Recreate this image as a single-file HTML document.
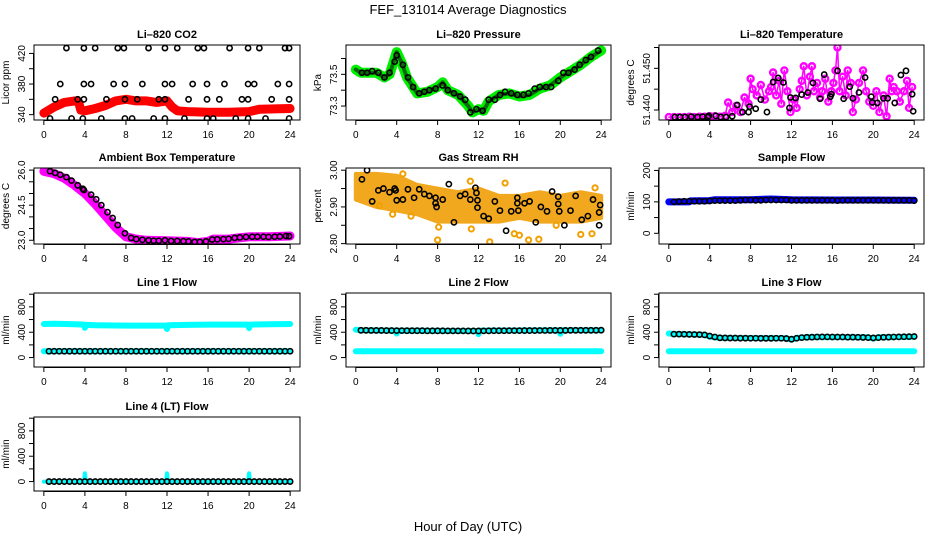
<!DOCTYPE html>
<html><head><meta charset="utf-8">
<style>
html,body{margin:0;padding:0;background:#fff;}
svg{display:block;font-family:"Liberation Sans",Arial,sans-serif;}
</style></head>
<body>
<svg id="fig" width="936" height="540" viewBox="0 0 936 540">
<text x="468" y="14" text-anchor="middle" font-size="13">FEF_131014  Average Diagnostics</text>
<text x="468" y="531" text-anchor="middle" font-size="13">Hour of Day (UTC)</text>
</svg>
<script>
// ---------- data ----------
const xTicks = [0,4,8,12,16,20,24];
// CO2
const co2BandH = [0,1,2,3,3.4,3.6,4,5,6,7,8,9,10,11,12,12.5,13,14,16,18,20,21,24];
const co2BandV = [342,350,356,358,356,346,345,348,352,358,360,358,358,356,358,350,345,344,343,343,344,347,348];
const co2BlkH = [2.2,3.9,5,7.2,7.8,10.2,11.8,13,15,15.6,18.1,19.9,21,23.5,23.9, 1.6,3.9,4.6,6.8,7.9,9.6,11.8,12.5,14.5,15.9,17.6,19.9,20.5,22.8,23.9, 1.1,3.3,3.9,6.1,7.9,9.1,11.2,11.8,14.1,15.9,17.1,19.3,19.9,22.2,23.9, 0.6,2.7,3.8,5.6,7.9,8.6,10.7,11.8,13.7,15.9,16.5,18.7,19.9,21.6,23.9];
const co2BlkV = [427,427,427,427,427,427,427,427,427,427,427,427,427,427,427, 380,380,380,380,380,380,380,380,380,380,380,380,380,380,380, 360,360,360,360,360,360,360,360,360,360,360,360,360,360,360, 335,335,335,335,335,335,335,335,335,335,335,335,335,335,335];
// Pressure
const prBandH = [0,0.5,1,2,2.8,3.3,3.8,4,4.5,5,5.6,6,7,8,8.5,9,10,11,11.4,12,12.5,13,14,15,16,17,18,19,20,21,22,23,24];
const prBandV = [73.53,73.51,73.51,73.51,73.48,73.5,73.6,73.64,73.57,73.48,73.42,73.38,73.39,73.42,73.45,73.4,73.37,73.3,73.26,73.28,73.27,73.33,73.37,73.38,73.36,73.37,73.41,73.43,73.48,73.52,73.56,73.61,73.65];
const prBlkH = [0.6,1.1,1.6,2.2,2.8,3.3,3.8,4,4.6,5.1,5.6,6.2,6.7,7.2,7.8,8.5,9.0,9.6,10.2,10.7,11.2,11.8,12.4,13,13.6,14.1,14.6,15.2,15.8,16.4,16.9,17.5,18,18.6,19.1,19.8,20.3,20.8,21.4,21.9,22.5,23,23.7];
const prBlkV = [73.51,73.51,73.52,73.51,73.48,73.51,73.58,73.62,73.56,73.48,73.42,73.38,73.39,73.4,73.41,73.43,73.4,73.38,73.36,73.34,73.26,73.28,73.27,73.34,73.34,73.37,73.39,73.38,73.37,73.37,73.38,73.41,73.42,73.42,73.42,73.46,73.51,73.51,73.53,73.56,73.59,73.61,73.65];
// Li-820 temperature
const tmH = [0,0.5,1,1.5,2,2.5,3,3.5,4,4.5,5,5.5,5.8,6.2,6.6,7,7.4,7.8,8,8.2,8.6,9,9.4,9.8,10,10.2,10.5,10.8,11,11.3,11.6,11.9,12.2,12.5,12.8,13,13.2,13.5,13.8,14,14.2,14.5,14.8,15,15.3,15.6,15.9,16.1,16.3,16.5,16.7,17,17.3,17.5,17.8,18,18.3,18.6,19,19.3,19.6,20,20.3,20.6,21,21.3,21.6,21.8,22,22.3,22.6,23,23.3,23.5,23.8];
const tmV = [51.4383,51.4383,51.4383,51.4383,51.4384,51.4383,51.4384,51.4384,51.4385,51.4385,51.4384,51.4386,51.4418,51.4395,51.441,51.4395,51.443,51.4415,51.4475,51.445,51.4435,51.446,51.4425,51.4445,51.4455,51.449,51.4435,51.447,51.4415,51.4495,51.4445,51.4395,51.4425,51.4405,51.445,51.447,51.4505,51.4435,51.448,51.4505,51.4445,51.4465,51.443,51.4445,51.4475,51.442,51.4445,51.4465,51.4495,51.455,51.4445,51.448,51.4435,51.4495,51.4465,51.4395,51.4425,51.4465,51.4495,51.4445,51.442,51.441,51.4445,51.4395,51.4435,51.4385,51.4475,51.4445,51.4455,51.4445,51.442,51.4445,51.447,51.4405,51.4455];
const tmBlkH = [0.6,1.1,1.6,2.2,2.8,3.3,3.8,3.9,4.6,5.1,5.6,6.2,6.7,7.2,7.8,7.9,8.5,9,9.6,10.2,10.7,11.2,11.8,11.9,12.4,13,13.6,14.1,14.8,15.2,15.8,15.9,16.5,17.1,17.7,18,18.6,19.2,19.8,19.9,20.4,21,21.4,22.1,22.7,23.2,23.8,23.9];
const tmBlkV = [51.4383,51.4383,51.4383,51.4384,51.4383,51.4384,51.4383,51.4386,51.4386,51.4383,51.4383,51.4385,51.4412,51.4395,51.4395,51.4408,51.4403,51.4425,51.4395,51.4467,51.4477,51.4466,51.4405,51.443,51.4429,51.4437,51.4442,51.4465,51.4427,51.4485,51.4432,51.4438,51.4494,51.4427,51.4456,51.4428,51.4442,51.4478,51.4432,51.4418,51.4417,51.4428,51.4428,51.4417,51.4484,51.4494,51.4438,51.4397];
// Ambient box temperature
const abH = [0,1,2,3,4,5,6,7,8,9,10,12,14,15,16,16.5,18,19,20,22,24];
const abV = [25.95,25.85,25.65,25.35,25.0,24.55,24.05,23.55,23.15,23.05,23.0,22.98,22.95,22.9,22.95,23.05,23.05,23.1,23.15,23.15,23.18];
const abBlkH = [0.6,1.1,1.6,2.2,2.7,3.3,3.8,3.9,4.6,5.1,5.6,6.2,6.7,7.2,7.9,8.5,9,9.6,10.2,10.7,11.2,11.8,12.4,13,13.6,14.1,14.7,15.2,15.8,16.4,16.9,17.5,18,18.6,19.1,19.7,20.3,20.8,21.4,21.9,22.5,23,23.6,23.9];
const abBlkV = [25.95,25.88,25.8,25.7,25.55,25.35,25.2,25.15,24.95,24.75,24.5,24.2,23.95,23.65,23.3,23.1,23.05,23.02,23.0,22.98,22.98,23.0,22.97,22.97,22.96,22.95,22.93,22.93,22.95,23.03,23.04,23.05,23.06,23.1,23.12,23.14,23.15,23.15,23.15,23.14,23.15,23.16,23.18,23.17];
// Gas stream RH
const rhBandH = [0,2,4,6,8,10,12,14,16,18,20,22,24];
const rhBandHi = [2.99,2.99,2.985,2.96,2.95,2.94,2.95,2.93,2.93,2.94,2.93,2.94,2.93];
const rhBandLo = [2.92,2.9,2.89,2.88,2.86,2.86,2.86,2.86,2.87,2.86,2.86,2.86,2.87];
const rhOutH = [3.6,2.3,8.0,8.1,11.3,13.1,14.6,15.5,16.0,16.9,17.9,19.6,22.0,23.1,23.4,11.2,4.6,5.4];
const rhOutV = [2.88,2.903,2.81,2.845,2.84,2.805,2.965,2.827,2.823,2.81,2.812,2.85,2.825,2.827,2.952,2.97,2.99,2.875];
const rhBlkH = [0.6,1.1,1.6,2.2,2.7,3.3,3.8,3.9,4,4.6,5.1,5.7,6.2,6.7,7.2,7.8,7.8,7.9,8.5,9.1,9.6,10.2,10.7,11.2,11.7,11.8,11.9,11.9,12.5,13,13.6,14.1,14.7,15.2,15.8,15.8,15.9,16.5,17,17.6,18.1,18.7,19.2,19.8,19.8,19.9,20.4,21,21.5,22.1,22.7,23.2,23.8,23.8,23.9];
const rhBlkV = [2.975,3.0,2.915,2.945,2.95,2.94,2.95,2.945,2.918,2.92,2.948,2.925,2.948,2.935,2.93,2.925,2.91,2.9,2.92,2.962,2.858,2.93,2.935,2.92,2.952,2.938,2.918,2.898,2.875,2.868,2.915,2.89,2.835,2.888,2.925,2.91,2.89,2.91,2.915,2.858,2.9,2.888,2.942,2.928,2.908,2.888,2.85,2.89,2.93,2.865,2.875,2.92,2.85,2.885,2.905];
// Sample flow
const sfBandH = [0,2,2.1,4,4.5,8,10,12,16,20,24];
const sfBandV = [100,100,103,104,107,107,109,107,106,106,105];
const halfH = [0.5,1,1.5,2,2.5,3,3.5,4,4.5,5,5.5,6,6.5,7,7.5,8,8.5,9,9.5,10,10.5,11,11.5,12,12.5,13,13.5,14,14.5,15,15.5,16,16.5,17,17.5,18,18.5,19,19.5,20,20.5,21,21.5,22,22.5,23,23.5,24];
const sfBlkV = [100,101,102,102,102,102,102,103,104,104,104,104,104,105,106,106,105,105,106,106,106,106,106,105,105,105,105,105,105,105,105,105,104,105,105,105,105,105,105,105,105,105,105,105,105,105,105,104];
// Line 1 flow
const l1HiH = [0,1,2,3,3.9,4,4.1,5,8,11.9,12,12.1,14,16,19.9,20,20.1,22,24];
const l1HiV = [530,535,530,525,520,470,515,510,505,505,450,510,515,520,520,465,520,525,530];
const l1LoH = [0,24];
const l1LoV = [100,100];
const l1BlkV = [100,100,100,100,100,100,100,100,100,100,100,100,100,100,100,100,100,100,100,100,100,100,100,100,100,100,100,100,100,100,100,100,100,100,100,100,100,100,100,100,100,100,100,100,100,100,100,100];
// Line 2 flow
const l2HiH = [0,0.5,3.9,4,4.1,11.9,12,12.1,19.9,20,20.1,24];
const l2HiV = [440,430,425,380,425,420,370,425,430,375,430,430];
const l2LoH = [0,24];
const l2LoV = [100,100];
const l2BlkV = [430,430,428,428,428,426,426,425,425,424,424,424,424,422,422,422,422,421,421,421,421,420,420,420,421,422,424,424,424,425,425,425,426,426,426,427,427,428,428,428,428,430,430,430,430,430,430,432];
// Line 3 flow
const l3HiH = [0,0.5,3.5,4,5,11.5,12,12.5,14,19.5,20,20.5,24];
const l3HiV = [380,372,360,330,310,305,280,310,325,320,300,320,330];
const l3LoH = [0,24];
const l3LoV = [100,100];
const l3BlkV = [370,370,368,366,364,362,358,340,325,312,310,308,308,306,306,305,305,304,304,304,305,305,300,290,305,315,320,322,325,326,326,325,324,324,322,322,320,318,315,310,315,320,322,325,326,328,330,332];
// Line 4 flow
const l4HiH = [0,3.9,4,4.1,11.9,12,12.1,19.9,20,20.1,24];
const l4HiV = [0,0,130,0,0,130,0,0,130,0,0];
const l4BlkV = [0,0,0,0,0,0,0,0,0,0,0,0,0,0,0,0,0,0,0,0,0,0,0,0,0,0,0,0,0,0,0,0,0,0,0,0,0,0,0,0,0,0,0,0,0,0,0,0];

// ---------- drawing ----------
const NS = 'http://www.w3.org/2000/svg';
const svg = document.getElementById('fig');
function el(tag, attrs, parent){
  const e = document.createElementNS(NS, tag);
  for (const k in attrs) e.setAttribute(k, attrs[k]);
  (parent||svg).appendChild(e);
  return e;
}
const cols = [[34,300],[346,611],[659,924]];
const rows = [[45,120],[168,244],[293,367],[417,491]];
const XD = [-0.96, 24.96];

function panel(name, title, ylab, col, row, yd, ticks, labels){
  const [x0,x1] = cols[col], [y0,y1] = rows[row];
  const g = el('g', {});
  
  
  const sx = v => x0 + (v - XD[0]) / (XD[1]-XD[0]) * (x1-x0);
  const sy = v => y1 - (v - yd[0]) / (yd[1]-yd[0]) * (y1-y0);
  const clipId = 'clip-' + name;
  const cp = el('clipPath', {id: clipId}, g);
  el('rect', {x:x0, y:y0, width:x1-x0, height:y1-y0}, cp);
  const plot = el('g', {'clip-path':'url(#'+clipId+')'}, g);
  
  
  const t = el('text', {x:(x0+x1)/2, y:y0-7, 'text-anchor':'middle', 'font-size':'11', 'font-weight':'bold'}, g);
  t.textContent = title;
  
  
  const yl = el('text', {transform:'translate('+(x0-25)+','+((y0+y1)/2)+') rotate(-90)', 'text-anchor':'middle', 'font-size':'10'}, g);
  yl.textContent = ylab;
  
  
  const box = el('rect', {x:x0, y:y0, width:x1-x0, height:y1-y0, fill:'none', stroke:'#000', 'stroke-width':1}, g);
  
  
  const xa = el('g', {}, g);
  
  
  el('line', {x1:sx(xTicks[0]), x2:sx(xTicks[xTicks.length-1]), y1:y1+0.5, y2:y1+0.5, stroke:'#000'}, xa);
  xTicks.forEach(v => {
    el('line', {x1:sx(v), x2:sx(v), y1:y1, y2:y1+5, stroke:'#000'}, xa);
    const tl = el('text', {x:sx(v), y:y1+18, 'text-anchor':'middle', 'font-size':'10'}, xa);
    tl.textContent = v;
    
    
  });
  const ya = el('g', {}, g);
  
  
  el('line', {x1:x0-0.5, x2:x0-0.5, y1:sy(ticks[0]), y2:sy(ticks[ticks.length-1]), stroke:'#000'}, ya);
  ticks.forEach(v => el('line', {x1:x0-5, x2:x0, y1:sy(v), y2:sy(v), stroke:'#000'}, ya));
  labels.forEach(lb => {
    const tl = el('text', {transform:'translate('+(x0-9)+','+sy(parseFloat(lb))+') rotate(-90)', 'text-anchor':'middle', 'font-size':'10'}, ya);
    tl.textContent = lb;
    
    
  });
  return {plot, sx, sy};
}
function band(p, hs, vs, color, w, nm, dash){
  const pts = hs.map((h,i)=>p.sx(h).toFixed(1)+','+p.sy(vs[i]).toFixed(1)).join(' ');
  const a = {points:pts, fill:'none', stroke:color, 'stroke-width':w, 'stroke-linejoin':'round', 'stroke-linecap':'round'};
  if (dash) a['stroke-dasharray'] = dash;
  const e = el('polyline', a, p.plot);
  
  
}
function dots(p, hs, vs, color, r, sw, nm){
  const g = el('g', {}, p.plot);
  
  
  hs.forEach((h,i) => {
    const c = el('circle', {cx:p.sx(h), cy:p.sy(vs[i]), r:r, fill:'none', stroke:color, 'stroke-width':sw}, g);
    
    
  });
}

// CO2
let p = panel('co2', 'Li\u2013820 CO2', 'Licor ppm', 0, 0, [333, 431], [340,360,380,400,420], ['340','380','420']);
band(p, co2BandH, co2BandV, '#ff0000', 9, 'co2-red-series');
dots(p, co2BlkH, co2BlkV, '#000', 2.6, 1.6, 'co2-black-series');

// Pressure
p = panel('pressure', 'Li\u2013820 Pressure', 'kPa', 1, 0, [73.212, 73.685], [73.3,73.4,73.5,73.6], ['73.3','73.5']);
band(p, prBandH, prBandV, '#00ee00', 10, 'pressure-green-series');
band(p, prBandH, prBandV, '#0a6a0a', 4, 'pressure-green-core', '1 2');
dots(p, prBlkH, prBlkV, '#000', 2.6, 1.6, 'pressure-black-series');

// Temperature
p = panel('li820-temp', 'Li\u2013820 Temperature', 'degrees C', 2, 0, [51.4376, 51.4556], [51.44,51.445,51.45,51.455], ['51.440','51.450']);
band(p, tmH, tmV, '#ff00ff', 1.5, 'temp-magenta-line');
dots(p, tmH, tmV, '#ff00ff', 3, 2.4, 'temp-magenta-series');
dots(p, tmBlkH, tmBlkV, '#000', 2.6, 1.6, 'temp-black-series');

// Ambient
p = panel('ambient', 'Ambient Box Temperature', 'degrees C', 0, 1, [22.84, 26.09], [23,23.5,24,24.5,25,25.5,26], ['23.0','24.5','26.0']);
band(p, abH, abV, '#ff00ff', 9, 'ambient-magenta-series');
dots(p, abBlkH, abBlkV, '#000', 2.6, 1.6, 'ambient-black-series');

// RH
p = panel('rh', 'Gas Stream RH', 'percent', 1, 1, [2.799, 3.006], [2.80,2.85,2.90,2.95,3.00], ['2.80','2.90','3.00']);
{
  const pts = rhBandH.map((h,i)=>p.sx(h)+','+p.sy(rhBandHi[i])).concat(rhBandH.slice().reverse().map((h,i)=>p.sx(h)+','+p.sy(rhBandLo[rhBandLo.length-1-i]))).join(' ');
  const e = el('polygon', {points:pts, fill:'#f2a81e', stroke:'#f2a81e', 'stroke-width':4, 'stroke-linejoin':'round'}, p.plot);
  
  
}
dots(p, rhOutH, rhOutV, '#f0a000', 2.6, 2, 'rh-orange-outliers');
dots(p, rhBlkH, rhBlkV, '#000', 2.6, 1.6, 'rh-black-series');

// Sample flow
p = panel('sample-flow', 'Sample Flow', 'ml/min', 2, 1, [-34, 207.7], [0,50,100,150,200], ['0','100','200']);
band(p, sfBandH, sfBandV, '#0000ff', 7, 'sample-flow-blue-series');
dots(p, halfH, sfBlkV, '#000', 2.6, 1.6, 'sample-flow-black-series');

const flowTicks = [0,200,400,600,800,1000];
const flowLabels = ['0','400','800'];
const FD = [-149, 1019];
// Line 1
p = panel('line1', 'Line 1 Flow', 'ml/min', 0, 2, FD, flowTicks, flowLabels);
band(p, l1HiH, l1HiV, '#00ffff', 6, 'line1-cyan-high');
band(p, l1LoH, l1LoV, '#00ffff', 6, 'line1-cyan-low');
dots(p, halfH, l1BlkV, '#000', 2.6, 1.6, 'line1-black-series');
// Line 2
p = panel('line2', 'Line 2 Flow', 'ml/min', 1, 2, FD, flowTicks, flowLabels);
band(p, l2HiH, l2HiV, '#00ffff', 6, 'line2-cyan-high');
band(p, l2LoH, l2LoV, '#00ffff', 6, 'line2-cyan-low');
dots(p, halfH, l2BlkV, '#000', 2.6, 1.6, 'line2-black-series');
// Line 3
p = panel('line3', 'Line 3 Flow', 'ml/min', 2, 2, FD, flowTicks, flowLabels);
band(p, l3HiH, l3HiV, '#00ffff', 6, 'line3-cyan-high');
band(p, l3LoH, l3LoV, '#00ffff', 6, 'line3-cyan-low');
dots(p, halfH, l3BlkV, '#000', 2.6, 1.6, 'line3-black-series');
// Line 4
p = panel('line4', 'Line 4 (LT) Flow', 'ml/min', 0, 3, FD, flowTicks, flowLabels);
band(p, l4HiH, l4HiV, '#00ffff', 4, 'line4-cyan-series');
dots(p, halfH, l4BlkV, '#000', 2.6, 1.6, 'line4-black-series');
</script>
</body></html>
